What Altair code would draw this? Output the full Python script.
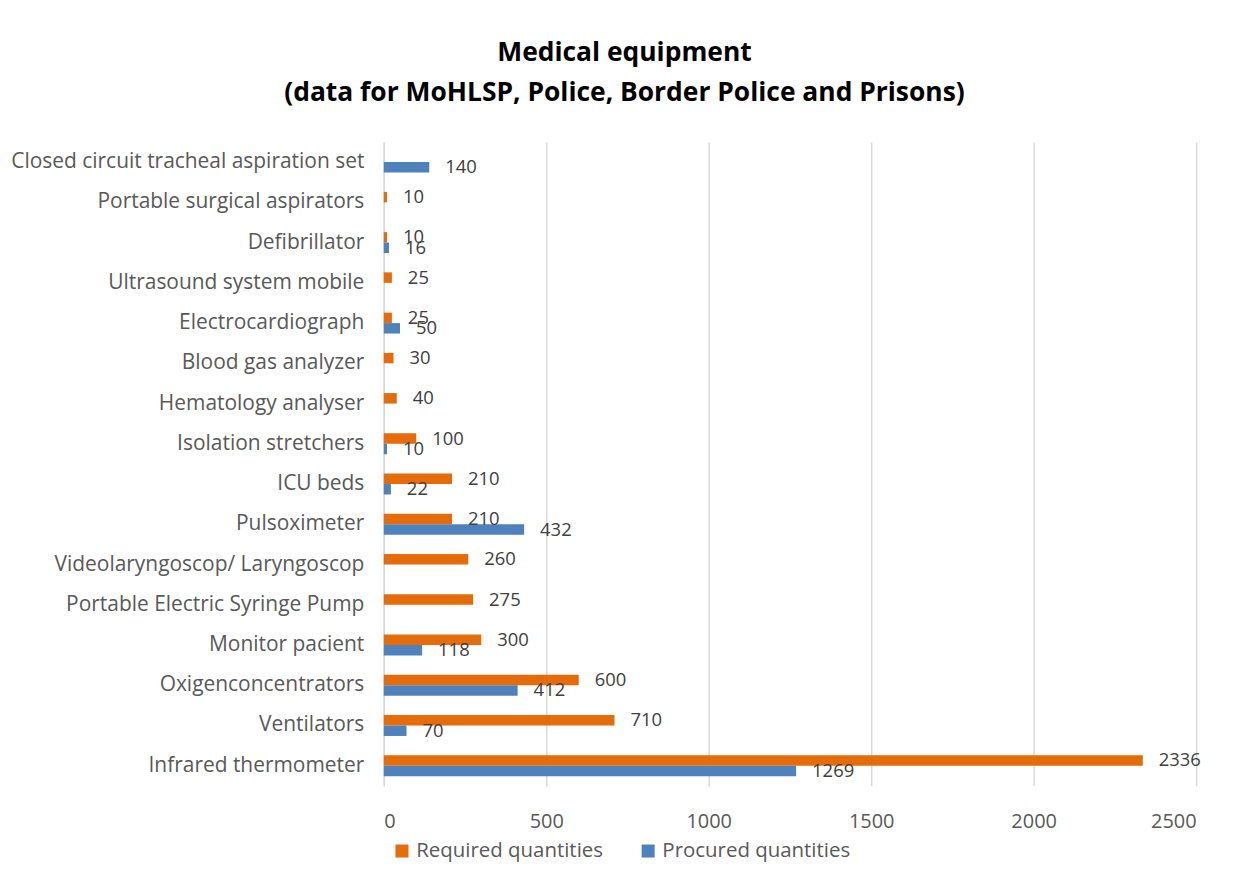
import altair as alt
import pandas as pd

categories = [
    "Closed circuit tracheal aspiration set",
    "Portable surgical aspirators",
    "Defibrillator",
    "Ultrasound system mobile",
    "Electrocardiograph",
    "Blood gas analyzer",
    "Hematology analyser",
    "Isolation stretchers",
    "ICU beds",
    "Pulsoximeter",
    "Videolaryngoscop/ Laryngoscop",
    "Portable Electric Syringe Pump",
    "Monitor pacient",
    "Oxigenconcentrators",
    "Ventilators",
    "Infrared thermometer",
]
required = [None, 10, 10, 25, 25, 30, 40, 100, 210, 210, 260, 275, 300, 600, 710, 2336]
procured = [140, None, 16, None, 50, None, None, 10, 22, 432, None, None, 118, 412, 70, 1269]
series = ["Required quantities", "Procured quantities"]
colors = ["#E46C0A", "#4F81BD"]

rows = []
for c, r, p in zip(categories, required, procured):
    if r is not None:
        rows.append({"item": c, "series": series[0], "value": r})
    if p is not None:
        rows.append({"item": c, "series": series[1], "value": p})
df = pd.DataFrame(rows)

FONT = "Open Sans"

y_enc = alt.Y("item:N", sort=categories, title=None,
              scale=alt.Scale(paddingInner=0.48, paddingOuter=0.24),
              axis=alt.Axis(labelFontSize=21, labelColor="#595959", labelFont=FONT,
                            labelPadding=20, ticks=False, domainColor="#D9D9D9",
                            domainWidth=1.5, labelLimit=500))
yoff = alt.YOffset("series:N", sort=series)
x_enc = alt.X("value:Q", title=None,
              scale=alt.Scale(domain=[0, 2500], nice=False),
              axis=alt.Axis(values=[0, 500, 1000, 1500, 2000, 2500], format="d",
                            labelFontSize=20, labelColor="#595959", labelFont=FONT,
                            labelPadding=26, ticks=False, domain=False,
                            gridColor="#D9D9D9", gridWidth=1.5))

base = alt.Chart(df)
bars = base.mark_bar().encode(
    y=y_enc, yOffset=yoff, x=x_enc,
    color=alt.Color("series:N", sort=series,
                    scale=alt.Scale(domain=series, range=colors),
                    legend=alt.Legend(orient="none", legendX=8, legendY=701,
                                      direction="horizontal", title=None,
                                      symbolType="square", symbolSize=170,
                                      labelFontSize=20.5, labelColor="#595959",
                                      labelFont=FONT, columnPadding=34, labelLimit=400,
                                      symbolStrokeWidth=0)),
)
labels = base.mark_text(align="left", baseline="middle", dx=16, fontSize=18.5,
                        font=FONT, color="#404040").encode(
    y=alt.Y("item:N", sort=categories), yOffset=yoff, x="value:Q",
    text=alt.Text("value:Q", format="d")
)

chart = (bars + labels).properties(
    width=815, height=646,
    title=alt.TitleParams(
        text=["Medical equipment", "(data for MoHLSP, Police, Border Police and Prisons)"],
        fontSize=26.5, font=FONT, fontWeight="bold", color="#000000",
        anchor="middle", frame="group", dx=-166, lineHeight=40, offset=36),
    padding={"left": 2, "top": 30, "right": 30, "bottom": 10},
).configure_view(stroke=None)

chart.save("out.html", embed_options={"renderer": "svg", "actions": False})
